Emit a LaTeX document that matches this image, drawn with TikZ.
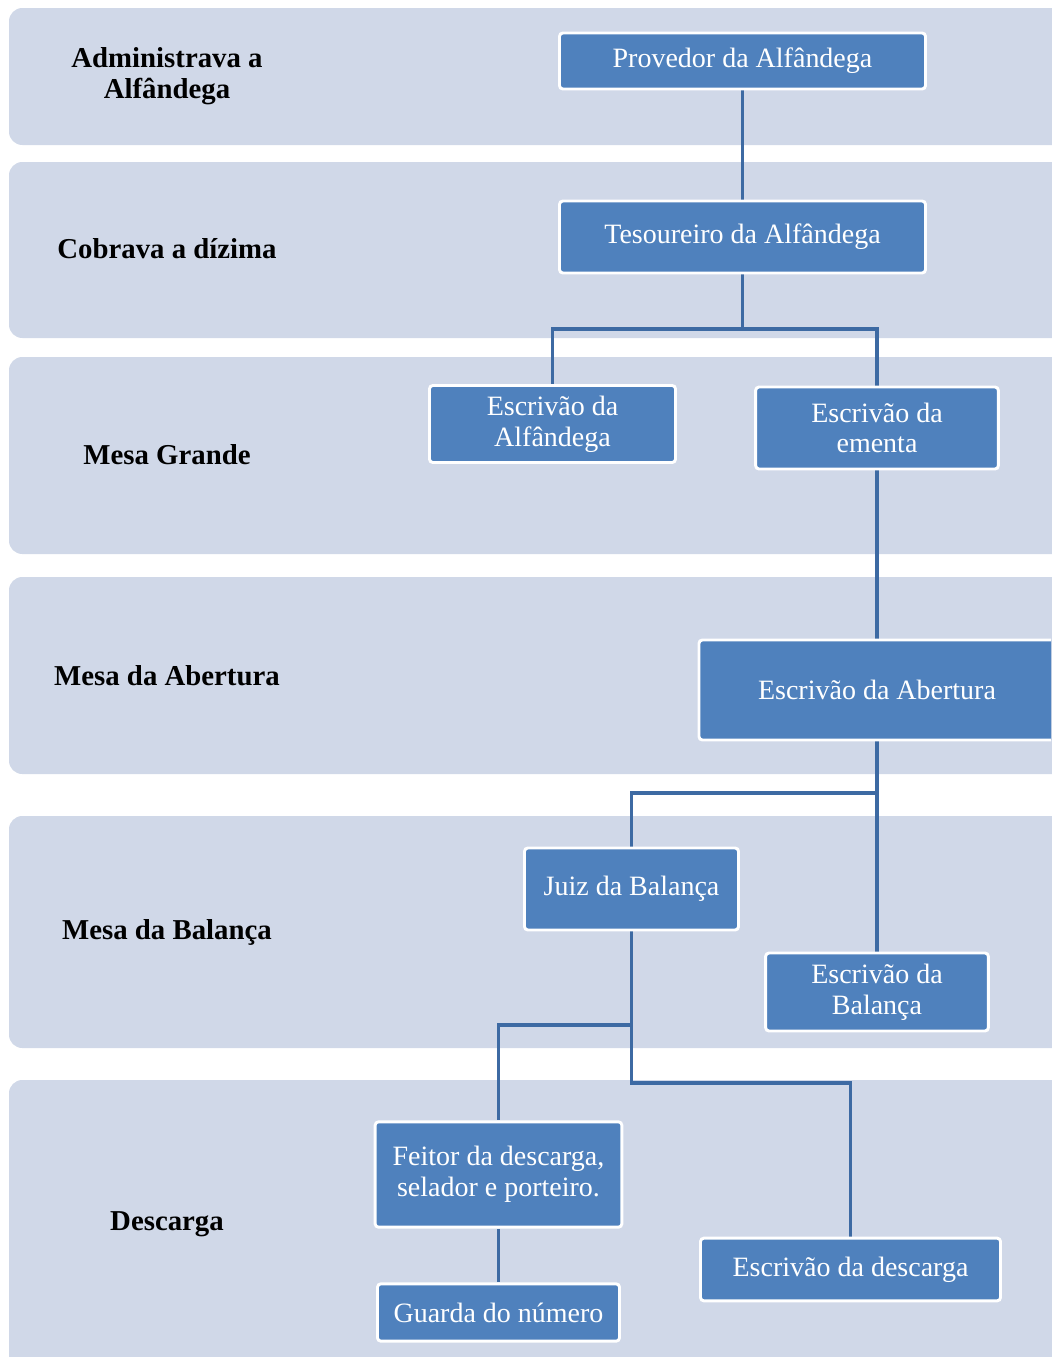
\documentclass[tikz,border=0pt]{standalone}
\usepackage{fontspec}
\setmainfont{Liberation Serif}
\usepackage{tikz}
\usetikzlibrary{backgrounds}

\definecolor{bandgray}{HTML}{D0D8E8}
\definecolor{boxblue}{HTML}{4F81BD}
\definecolor{lineblue}{HTML}{3D6AA3}

\tikzset{
    band/.style={fill=bandgray, rounded corners=10pt},
    post/.style={fill=boxblue, draw=white, line width=2.2pt, rounded corners=2.5pt,
        text=white, align=center, inner sep=2pt,
        font=\fontsize{21}{23}\selectfont},
    level/.style={align=center, font=\fontsize{21.6}{23}\selectfont\bfseries},
    link/.style={draw=lineblue, line width=2.4pt}
}

\begin{document}
\begin{tikzpicture}[x=0.75pt, y=-0.75pt]
    \clip (0,0) rectangle (1051,1357);

    % cargos
    \node[post, minimum width=274.5pt, minimum height=42pt] (prov) at (742.5,61) {Provedor da Alfândega};
    \node[post, minimum width=274.5pt, minimum height=54pt] (tes) at (742.5,237) {Tesoureiro da Alfândega};
    \node[post, minimum width=184.5pt, minimum height=57.75pt] (escalf) at (552.5,424) {Escrivão da\\Alfândega};
    \node[post, minimum width=182pt, minimum height=61.5pt] (ementa) at (877,428) {Escrivão da\\ementa};
    \node[post, minimum width=267pt, minimum height=75pt] (abert) at (877,690) {Escrivão da Abertura};
    \node[post, minimum width=160.5pt, minimum height=61.5pt] (juiz) at (631.5,889) {Juiz da Balança};
    \node[post, minimum width=167pt, minimum height=58.5pt] (escbal) at (877,992) {Escrivão da\\Balança};
    \node[post, minimum width=185pt, minimum height=79pt] (feitor) at (498.5,1174.5) {Feitor da descarga,\\selador e porteiro.};
    \node[post, minimum width=181.5pt, minimum height=43pt] (guarda) at (498.5,1312.5) {Guarda do número};
    \node[post, minimum width=225pt, minimum height=47pt] (escdesc) at (850.5,1269.5) {Escrivão da descarga};

    % niveis
    \node[level] (lvl1) at (167,76) {Administrava a\\Alfândega};
    \node[level] (lvl2) at (167,249) {Cobrava a dízima};
    \node[level] (lvl3) at (167,455) {Mesa Grande};
    \node[level] (lvl4) at (167,676) {Mesa da Abertura};
    \node[level] (lvl5) at (167,932) {Mesa da Balança};
    \node[level] (lvl6) at (167,1224) {Descarga};

    \coordinate (split1) at (742.5,329);
    \coordinate (split2) at (877,793);
    \coordinate (split3) at (631.5,1025);
    \coordinate (split4) at (631.5,1083);

    \begin{pgfonlayer}{background}
        \fill[band] (9,8) rectangle (1080,145);
        \fill[band] (9,162) rectangle (1080,338);
        \fill[band] (9,357) rectangle (1080,554);
        \fill[band] (9,577) rectangle (1080,774);
        \fill[band] (9,816) rectangle (1080,1048);
        \fill[band] (9,1080) rectangle (1080,1400);

        \draw[link] (prov.south) -- (tes.north);
        \draw[link] (tes.south) -- (split1) -| (escalf.north);
        \draw[link] (tes.south) -- (split1) -| (ementa.north);
        \draw[link] (ementa.south) -- (abert.north);
        \draw[link] (abert.south) -- (escbal.north);
        \draw[link] (split2) -| (juiz.north);
        \draw[link] (juiz.south) -- (split3) -| (feitor.north);
        \draw[link] (juiz.south) -- (split4) -| (escdesc.north);
        \draw[link] (feitor.south) -- (guarda.north);
    \end{pgfonlayer}
\end{tikzpicture}
\end{document}
